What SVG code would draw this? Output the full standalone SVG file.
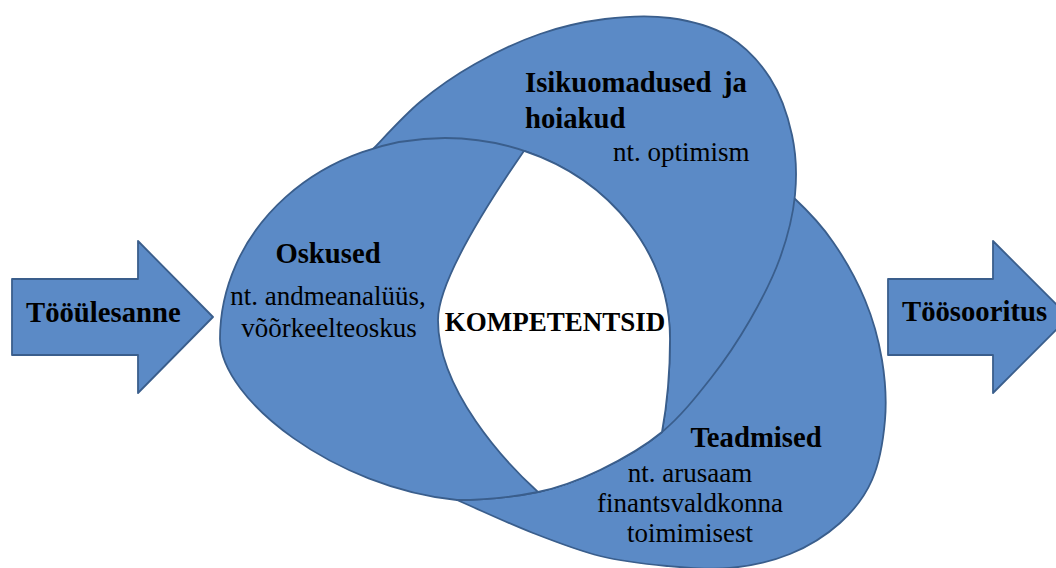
<svg xmlns="http://www.w3.org/2000/svg" width="1056" height="568" viewBox="0 0 1056 568">
<style>
.shape{fill:#5B8AC6;stroke:#3A5E8C;stroke-width:1.8;stroke-linejoin:round}
.lens{fill:#FFFFFF;stroke:#3A5E8C;stroke-width:1.8;stroke-linejoin:round}
text{font-family:"Liberation Serif","Times New Roman",Tinos,serif;fill:#000000}
.b{font-weight:bold;font-size:28.7px}
.r{font-weight:normal;font-size:27px}
</style>
<rect width="1056" height="568" fill="#FFFFFF"/>
<g id="node-teadmised">
<path class="shape" d="M457,500 C482.3,511 509.2,523.7 533,533 C556.8,542.3 577.7,550.5 600,556 C622.3,561.5 645.3,564 667,566 C688.7,568 709.5,570 730,568 C750.5,566 771.7,561.5 790,554 C808.3,546.5 826.3,535.3 840,523 C853.7,510.7 864.5,497.2 872,480 C879.5,462.8 883.3,440 885,420 C886.7,400 885.3,380 882,360 C878.7,340 873.2,319.7 865,300 C856.8,280.3 845,259.2 833,242 C821,224.2 807.7,210.7 793,197 C700,260 560,400 457,500 Z"/>
<text class="b" x="756" y="447" text-anchor="middle" font-family="Liberation Serif, serif">Teadmised</text>
<text class="r" x="690" y="482" text-anchor="middle" font-family="Liberation Serif, serif">nt. arusaam</text>
<text class="r" x="690" y="512" text-anchor="middle" font-family="Liberation Serif, serif">finantsvaldkonna</text>
<text class="r" x="690" y="542" text-anchor="middle" font-family="Liberation Serif, serif">toimimisest</text>
</g>
<g id="node-isikuomadused">
<path class="shape" d="M373,149 C380.8,141.2 403,116.2 420,102 C437,87.8 455,75.3 475,64 C495,52.7 518.3,41.5 540,34 C561.7,26.5 583.3,21.7 605,19 C626.7,16.3 649.5,15.2 670,18 C690.5,20.8 711.3,26 728,36 C744.7,46 759.3,61.5 770,78 C780.7,94.5 787.8,115.5 792,135 C796.2,154.5 797,174.5 795,195 C793,215.5 787.5,237.2 780,258 C772.5,278.8 761.5,300 750,320 C738.5,340 725.7,359.3 711,378 C696.3,396.7 680.5,416.7 662,432 C643.5,447.3 620.7,460 600,470 C579.3,480 561.8,487 538,492 C513.5,497 480,500 457,500 C390,430 360,250 373,149 Z"/>
<text class="b" x="525" y="92" font-family="Liberation Serif, serif">Isikuomadused<tspan x="723">ja</tspan></text>
<text class="b" x="525" y="128" font-family="Liberation Serif, serif">hoiakud</text>
<text class="r" x="613" y="161" font-family="Liberation Serif, serif">nt. optimism</text>
</g>
<g id="node-oskused">
<path class="shape" d="M457,500 C335,488 221,400 220,339 A225,201 0 0 1 445,138 A225,201 0 0 1 670,339 C670,375 666,410 662,432 C643.5,447.3 620.7,460 600,470 C579.3,480 561.8,487 538,492 C513.5,497 480,500 457,500 Z"/>
<text class="b" x="328" y="263" text-anchor="middle" font-family="Liberation Serif, serif">Oskused</text>
<text class="r" x="328" y="305" text-anchor="middle" font-family="Liberation Serif, serif">nt. andmeanalüüs,</text>
<text class="r" x="329" y="337" text-anchor="middle" font-family="Liberation Serif, serif">võõrkeelteoskus</text>
</g>
<g id="node-kompetentsid">
<path class="lens" d="M524,150.8 A225,201 0 0 1 670,339 C670,375 666,410 662,432 C643.5,447.3 620.7,460 600,470 C579.3,480 561.8,487 538,492 C505,462 438,390 438,320 C438,275 506,177 524,150.8 Z"/>
<text x="555" y="331" text-anchor="middle" font-weight="bold" font-size="27" font-family="Liberation Serif, serif">KOMPETENTSID</text>
</g>
<g id="node-tooulesanne">
<path class="shape" d="M12,279 L138,279 L138,241 L213,317 L138,393 L138,355 L12,355 Z"/>
<text class="b" x="26" y="322" font-family="Liberation Serif, serif">Tööülesanne</text>
</g>
<g id="node-toosooritus">
<path class="shape" d="M888,279 L993,279 L993,241 L1069,317 L993,393 L993,355 L888,355 Z"/>
<text class="b" x="902" y="321" font-family="Liberation Serif, serif">Töösooritus</text>
</g>
<g id="connectors"/>
</svg>
